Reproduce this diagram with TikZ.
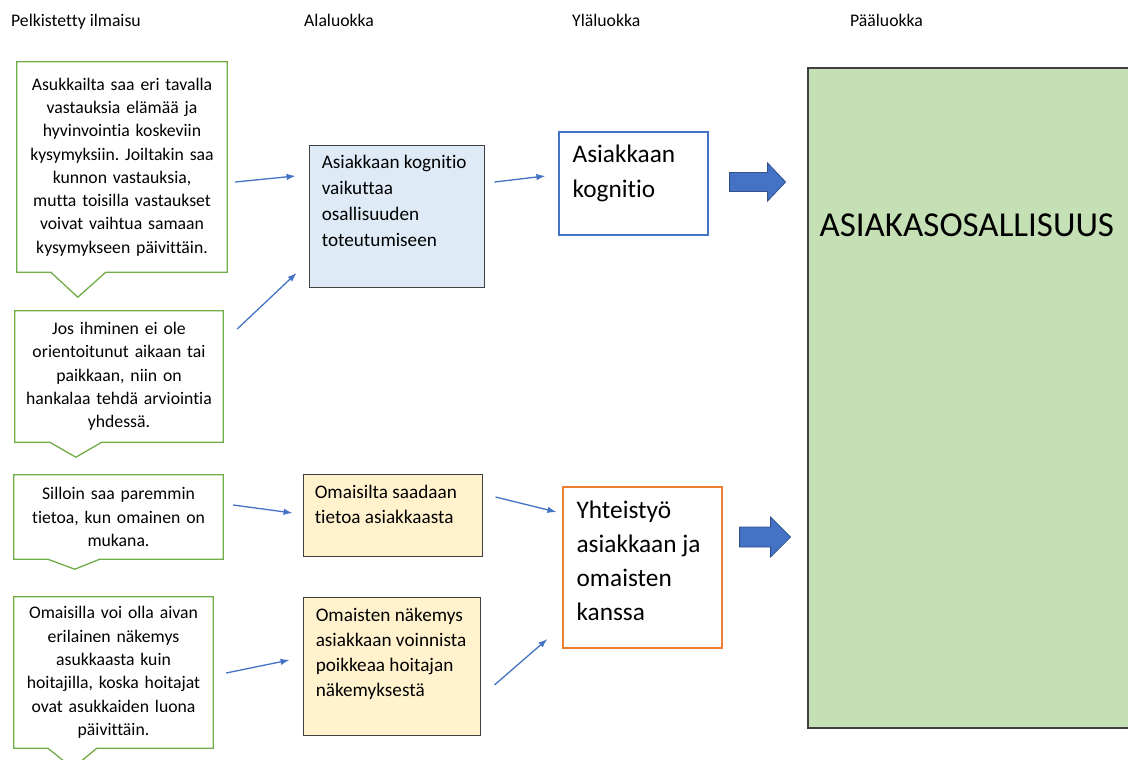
\documentclass[tikz,border=0pt]{standalone}
\usepackage{fontspec}
\setmainfont{Carlito}[Ligatures=NoCommon]
\usetikzlibrary{arrows.meta,calc}
\frenchspacing

\definecolor{kehysvihrea}{HTML}{70AD47}
\definecolor{nuolisin}{HTML}{4472C4}
\definecolor{nuolireuna}{HTML}{2F528F}
\definecolor{oranssi}{HTML}{ED7D31}
\definecolor{vaaleasin}{HTML}{DEEBF7}
\definecolor{vaaleakelt}{HTML}{FFF2CC}
\definecolor{vaaleavihr}{HTML}{C5E0B4}
\definecolor{tummareuna}{HTML}{404040}

\begin{document}
\begin{tikzpicture}[x=1pt,y=-1pt,>=Latex,
  otsikko/.style={anchor=base west,inner sep=0pt,font=\fontsize{17.7}{21}\selectfont},
  puhe/.style={inner sep=0pt,align=center,font=\fontsize{17.7}{23.3}\selectfont},
  puheviiva/.style={draw=kehysvihrea,line width=1.3pt,line join=miter},
  luokka/.style={draw=tummareuna,line width=0.9pt,inner sep=0pt},
  luokkateksti/.style={anchor=base west,inner sep=0pt,align=left},
  yhteys/.style={draw=nuolisin,line width=1.3pt,-{Latex[length=9pt,width=6.5pt]}},
  paksunuoli/.style={fill=nuolisin,draw=nuolireuna,line width=0.8pt}]
\useasboundingbox (0,0) rectangle (1128,760);
\clip (0,0) rectangle (1128,760);

% otsikot
\node[otsikko] (o1) at (11,27) {Pelkistetty ilmaisu};
\node[otsikko] (o2) at (304,27) {Alaluokka};
\node[otsikko] (o3) at (572,27) {Yläluokka};
\node[otsikko] (o4) at (850,27) {Pääluokka};

% pelkistetyt ilmaisut
\node[puhe,minimum width=210pt,minimum height=210pt,text width=200pt] (c1) at (122,167) {Asukkailta saa eri tavalla\\vastauksia elämää ja\\hyvinvointia koskeviin\\kysymyksiin. Joiltakin saa\\kunnon vastauksia,\\mutta toisilla vastaukset\\voivat vaihtua samaan\\kysymykseen päivittäin.};
\draw[puheviiva] ([shift={(34,0)}]c1.south west) -- (c1.south west) -- (c1.north west) -- (c1.north east) -- (c1.south east) -- ([shift={(89,0)}]c1.south west) -- ([shift={(61,25)}]c1.south west) -- cycle;
\node[puhe,minimum width=208pt,minimum height=131pt,text width=198pt] (c2) at (119,376.5) {Jos ihminen ei ole\\orientoitunut aikaan tai\\paikkaan, niin on\\hankalaa tehdä arviointia\\yhdessä.};
\draw[puheviiva] ([shift={(35,0)}]c2.south west) -- (c2.south west) -- (c2.north west) -- (c2.north east) -- (c2.south east) -- ([shift={(87,0)}]c2.south west) -- ([shift={(61,15)}]c2.south west) -- cycle;
\node[puhe,minimum width=209pt,minimum height=84pt,text width=199pt] (c3) at (118.5,517) {Silloin saa paremmin\\tietoa, kun omainen on\\mukana.};
\draw[puheviiva] ([shift={(34,0)}]c3.south west) -- (c3.south west) -- (c3.north west) -- (c3.north east) -- (c3.south east) -- ([shift={(86,0)}]c3.south west) -- ([shift={(61,10)}]c3.south west) -- cycle;
\node[puhe,minimum width=199pt,minimum height=151pt,text width=190pt] (c4) at (113.5,672.5) {Omaisilla voi olla aivan\\erilainen näkemys\\asukkaasta kuin\\hoitajilla, koska hoitajat\\ovat asukkaiden luona\\päivittäin.};
\draw[puheviiva] ([shift={(34,0)}]c4.south west) -- (c4.south west) -- (c4.north west) -- (c4.north east) -- (c4.south east) -- ([shift={(83,0)}]c4.south west) -- ([shift={(59,20)}]c4.south west) -- cycle;

% alaluokat (teksti ankkuroitu viimeisen rivin perusviivaan)
\node[luokka,fill=vaaleasin,minimum width=175pt,minimum height=142pt] (ak) at (396.5,216) {};
\node[luokkateksti,font=\fontsize{19.2}{26}\selectfont] (ak-t) at ([shift={(13,102)}]ak.north west) {Asiakkaan kognitio\\vaikuttaa\\osallisuuden\\toteutumiseen};
\node[luokka,fill=vaaleakelt,minimum width=179pt,minimum height=82pt] (om) at (392.5,515) {};
\node[luokkateksti,font=\fontsize{19.2}{25}\selectfont] (om-t) at ([shift={(12,50)}]om.north west) {Omaisilta saadaan\\tietoa asiakkaasta};
\node[luokka,fill=vaaleakelt,minimum width=177pt,minimum height=138pt] (ns) at (391.5,666) {};
\node[luokkateksti,font=\fontsize{19.2}{25}\selectfont] (ns-t) at ([shift={(13,100)}]ns.north west) {Omaisten näkemys\\asiakkaan voinnista\\poikkeaa hoitajan\\näkemyksestä};

% yläluokat
\node[luokka,draw=nuolisin,line width=1.2pt,fill=white,minimum width=149pt,minimum height=103pt] (kog) at (633.5,183.5) {};
\node[luokkateksti,font=\fontsize{25.3}{35}\selectfont] (kog-t) at ([shift={(14,66)}]kog.north west) {Asiakkaan\\kognitio};
\node[luokka,draw=oranssi,line width=1.2pt,fill=white,minimum width=159pt,minimum height=161pt] (yht) at (642.5,567.5) {};
\node[luokkateksti,font=\fontsize{25.3}{34}\selectfont] (yht-t) at ([shift={(14,134)}]yht.north west) {Yhteistyö\\asiakkaan ja\\omaisten\\kanssa};

% pääluokka
\node[luokka,line width=1.3pt,fill=vaaleavihr,minimum width=342pt,minimum height=660pt] (paa) at (979,398) {};
\node[luokkateksti,font=\fontsize{35}{42}\selectfont] (paa-t) at ([shift={(12,169)}]paa.north west) {ASIAKASOSALLISUUS};

% yhteydet
\draw[yhteys] ([shift={(8,15)}]c1.east) -- ([shift={(-13,-40)}]ak.west);
\draw[yhteys] ([shift={(14,-47.5)}]c2.east) -- ([shift={(-12,57)}]ak.west);
\draw[yhteys] ([shift={(10,-34)}]ak.east) -- ([shift={(-13,-7.5)}]kog.west);
\draw[yhteys] ([shift={(10,-12)}]c3.east) -- ([shift={(-10,-2)}]om.west);
\draw[yhteys] ([shift={(13,0.5)}]c4.east) -- ([shift={(-13,-6)}]ns.west);
\draw[yhteys] ([shift={(13,-18)}]om.east) -- ([shift={(-6,-55.5)}]yht.west);
\draw[yhteys] ([shift={(14,19)}]ns.east) -- ([shift={(-15,71.5)}]yht.west);

% paksut nuolet
\coordinate (na1) at ([shift={(21,-1.5)}]kog.east);
\draw[paksunuoli] (na1) ++(0,-9.5) -- ++(38,0) -- ++(0,-9.5) -- ++(18,19) -- ++(-18,19) -- ++(0,-9.5) -- ++(-38,0) -- cycle;
\coordinate (na2) at ([shift={(17,-30.5)}]yht.east);
\draw[paksunuoli] (na2) ++(0,-10) -- ++(31,0) -- ++(0,-10) -- ++(20,20) -- ++(-20,20) -- ++(0,-10) -- ++(-31,0) -- cycle;
\end{tikzpicture}
\end{document}
